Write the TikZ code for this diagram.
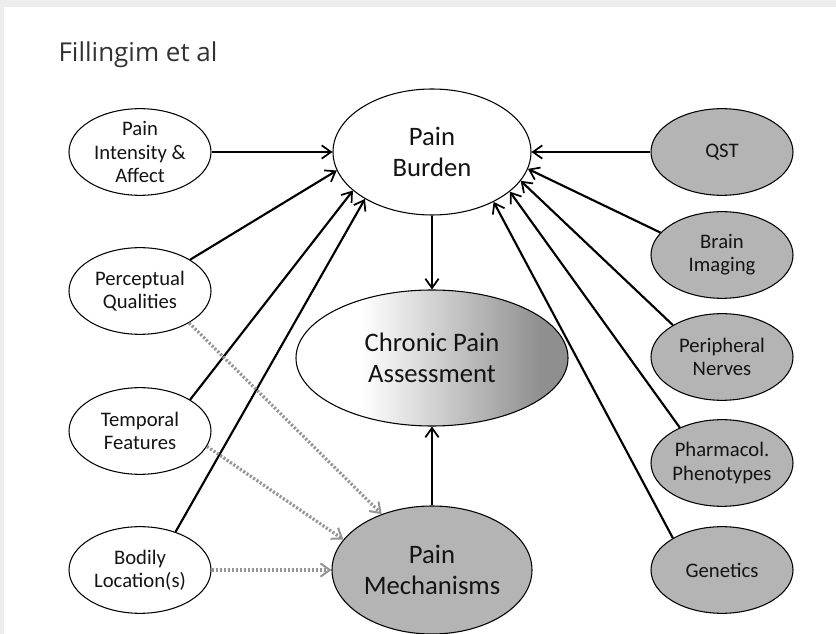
\documentclass[tikz,border=0pt]{standalone}
\usepackage{fontspec}
\setmainfont{Carlito}
\newfontfamily\titlefont{Open Sans}
\usepackage{tikz}
\usetikzlibrary{shapes, arrows.meta}
\definecolor{boxgray}{HTML}{B4B4B4}
\definecolor{dotgray}{HTML}{959595}
\definecolor{pagegray}{HTML}{EDEDED}
\definecolor{inkgray}{HTML}{141414}
\pgfdeclarehorizontalshading{chronicshade}{100bp}{color(0bp)=(white);
    color(25bp)=(white); color(37bp)=(white); color(70bp)=(black!44);
    color(100bp)=(black!44)}

\begin{document}
\begin{tikzpicture}[x=0.75pt, y=-0.75pt,
    every node/.style = {shape=ellipse, draw, align=center,
        inner sep=0pt, line width=0.8pt, text=inkgray},
    small/.style = {minimum width=106.5pt, minimum height=65pt,
        font=\fontsize{15.5}{17.5}\selectfont},
    tool/.style = {small, fill=boxgray},
    big/.style = {font=\fontsize{20}{23.5}\selectfont},
    link/.style = {line width=1.6pt,
        -{Straight Barb[length=7pt, width=10pt, line width=1.3pt]}},
    hint/.style = {dotgray, line width=2.4pt, dash pattern=on 1.6pt off 1.4pt,
        -{Straight Barb[length=7pt, width=10pt, line width=1.5pt]}}]
    \useasboundingbox (0,0) rectangle (836,634);
    \fill[pagegray] (0,0) rectangle (836,634);
    \fill[white] (4,7) rectangle (836,634);
    \node[shape=rectangle, draw=none, anchor=base west, text=black!80,
        font=\titlefont\fontsize{19.5}{22}\selectfont] (title) at (58,62) {Fillingim et al};

    \node[small] (intensity) at (140,152) {Pain\\Intensity \&\\Affect};
    \node[small] (perceptual) at (140,291) {Perceptual\\Qualities};
    \node[small] (temporal) at (140,431) {Temporal\\Features};
    \node[small] (bodily) at (140,570) {Bodily\\Location(s)};

    \node[big, minimum width=148.5pt, minimum height=94.5pt] (burden) at (432,152) {Pain\\Burden};
    \node[big, minimum width=204pt, minimum height=102pt,
        shading=chronicshade] (chronic) at (432,358) {Chronic Pain\\Assessment};
    \node[big, minimum width=150pt, minimum height=96pt, fill=boxgray] (mech) at (432,570) {Pain\\Mechanisms};

    \node[tool] (qst) at (722,152) {QST};
    \node[tool] (brain) at (722,255) {Brain\\Imaging};
    \node[tool] (peripheral) at (722,357) {Peripheral\\Nerves};
    \node[tool] (pharma) at (722,463) {Pharmacol.\\Phenotypes};
    \node[tool] (genetics) at (722,570) {Genetics};

    \draw[link] (intensity) -- (burden);
    \draw[link] (perceptual.32) -- (burden.191);
    \draw[link] (temporal.32) -- (burden.206);
    \draw[link] (bodily.47) -- (burden.215);
    \draw[link] (qst) -- (burden);
    \draw[link] (brain.160) -- (burden.350);
    \draw[link] (peripheral.147) -- (burden.342);
    \draw[link] (pharma.140) -- (burden.333);
    \draw[link] (genetics.147) -- (burden.321);
    \draw[link] (burden) -- (chronic);
    \draw[link] (mech) -- (chronic);

    \draw[hint] (perceptual.327) -- (mech.132);
    \draw[hint] (temporal.347) -- (mech.161);
    \draw[hint] (bodily) -- (mech);
\end{tikzpicture}
\end{document}
